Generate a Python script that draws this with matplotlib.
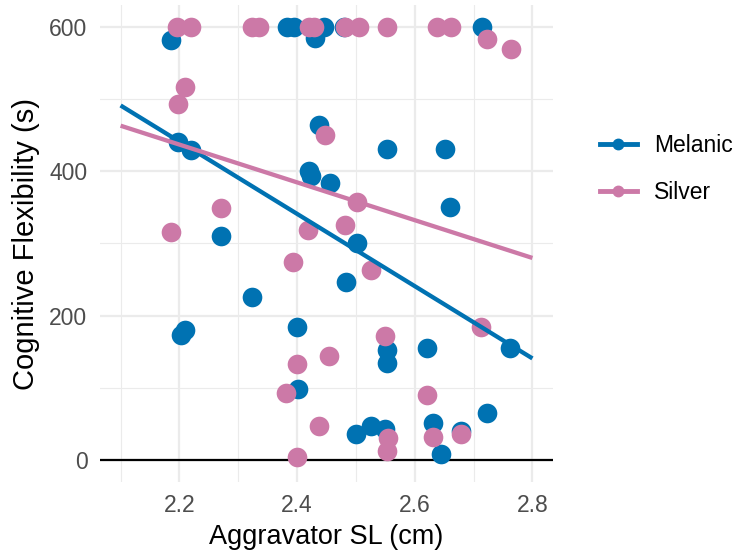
import matplotlib
matplotlib.use("Agg")
import matplotlib.pyplot as plt
from matplotlib.lines import Line2D
from matplotlib.ticker import MultipleLocator

plt.rcParams["font.family"] = ["Liberation Sans", "DejaVu Sans"]

# Melanic fish (aggravator SL in cm, cognitive flexibility in s)
melanic_sl = [2.186, 2.383, 2.394, 2.430, 2.445, 2.479, 2.714, 2.437, 2.197, 2.219,
              2.552, 2.652, 2.420, 2.423, 2.456, 2.660, 2.270, 2.501, 2.483, 2.324,
              2.762, 2.202, 2.210, 2.400, 2.552, 2.552, 2.620, 2.401, 2.722, 2.500,
              2.525, 2.550, 2.631, 2.679, 2.644]
melanic_cf = [582, 600, 600, 585, 600, 600, 600, 464, 440, 430,
              431, 431, 400, 394, 384, 350, 311, 300, 247, 226,
              156, 174, 180, 184, 152, 135, 155, 98, 66, 37,
              48, 44, 52, 40, 9]

# Silver fish
silver_sl = [2.196, 2.219, 2.324, 2.335, 2.420, 2.428, 2.482, 2.505, 2.553, 2.638,
             2.661, 2.722, 2.763, 2.209, 2.197, 2.447, 2.501, 2.270, 2.481, 2.186,
             2.419, 2.393, 2.525, 2.713, 2.550, 2.400, 2.455, 2.382, 2.620, 2.437,
             2.554, 2.552, 2.631, 2.679, 2.400]
silver_cf = [600, 600, 600, 600, 600, 600, 600, 600, 600, 600,
             600, 583, 569, 516, 493, 450, 358, 349, 325, 316,
             318, 275, 264, 184, 172, 133, 144, 93, 91, 47,
             31, 13, 32, 37, 4]

# fitted trend lines, values read at both ends of the fit range
fit_sl = [2.1, 2.8]
melanic_fit = [491, 141]
silver_fit = [463, 280]

groups = ["Melanic", "Silver"]
colors = {"Melanic": "#0072B2", "Silver": "#CC79A7"}
points = {"Melanic": (melanic_sl, melanic_cf), "Silver": (silver_sl, silver_cf)}
fits = {"Melanic": melanic_fit, "Silver": silver_fit}

fig = plt.figure(figsize=(7.42, 5.59), dpi=100)
ax = fig.add_axes([100 / 742, 1 - 482 / 559, 453 / 742, 477 / 559])

for g in groups:
    x, y = points[g]
    ax.scatter(x, y, s=200, color=colors[g], linewidths=0, zorder=3)

for g in groups:
    ax.plot(fit_sl, fits[g], color=colors[g], lw=3.1, zorder=4,
            solid_capstyle="butt")

ax.axhline(0, color="black", lw=1.6, zorder=2)

ax.set_xlim(2.065, 2.835)
ax.set_ylim(-30, 630)
ax.xaxis.set_major_locator(MultipleLocator(0.2))
ax.xaxis.set_minor_locator(MultipleLocator(0.1))
ax.yaxis.set_major_locator(MultipleLocator(200))
ax.yaxis.set_minor_locator(MultipleLocator(100))
ax.set_xticks([2.2, 2.4, 2.6, 2.8])
ax.set_xticklabels(["2.2", "2.4", "2.6", "2.8"])

ax.grid(which="major", color="#EBEBEB", lw=1.6, zorder=0)
ax.grid(which="minor", color="#EBEBEB", lw=0.8, zorder=0)
ax.set_axisbelow(True)
for sp in ax.spines.values():
    sp.set_visible(False)
ax.tick_params(which="both", length=0, labelsize=16.5, labelcolor="#4D4D4D")
ax.tick_params(axis="x", pad=9)
ax.tick_params(axis="y", pad=9)

ax.set_xlabel("Aggravator SL (cm)", fontsize=19.5, labelpad=5)
ax.set_ylabel("Cognitive Flexibility (s)", fontsize=21, labelpad=7)

handles = [Line2D([0], [0], color=colors[g], lw=3.5, marker="o", markersize=7.5)
           for g in groups]
fig.legend(handles, groups, loc="center left", bbox_to_anchor=(600 / 742, 1 - 169 / 559),
           frameon=False, fontsize=16.5, handlelength=1.6, handletextpad=0.75,
           labelspacing=1.05, borderpad=0, borderaxespad=0)

fig.savefig("out.png", dpi=100)
